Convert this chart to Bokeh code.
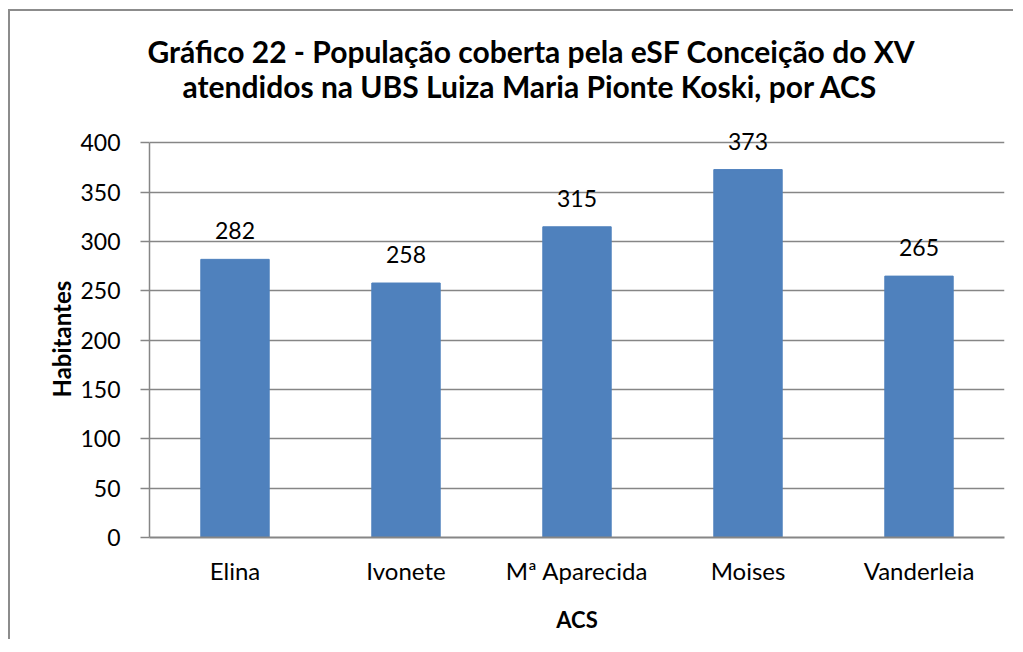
from bokeh.plotting import figure
from bokeh.models import ColumnDataSource, LabelSet, Range1d, FixedTicker, Title
from bokeh.core.properties import value
from bokeh.embed import file_html
from bokeh.resources import INLINE

categories = ["Elina", "Ivonete", "Mª Aparecida", "Moises", "Vanderleia"]
values = [282, 258, 315, 373, 265]
y_ticks = [0, 50, 100, 150, 200, 250, 300, 350, 400]
title_lines = ["Gráfico 22 - População coberta pela eSF Conceição do XV",
               "atendidos na UBS Luiza Maria Pionte Koski, por ACS"]
x_title = "ACS"
y_title = "Habitantes"

FONT = "Lato"
GRAY = "#868686"

src = ColumnDataSource(dict(cat=categories, val=values, lab=[str(v) for v in values]))

p = figure(x_range=categories, y_range=Range1d(0, 440), width=1005, height=630,
           output_backend="svg", toolbar_location=None,
           min_border_left=139, min_border_right=11, min_border_top=92, min_border_bottom=104)

p.styles = {"margin-left": "8px", "margin-top": "9px",
            "border-left": "2px solid #8c8c8c", "border-top": "2px solid #8c8c8c"}

# line 2 first (closest to the frame), then line 1
p.add_layout(Title(text=title_lines[1], align="left", offset=33, standoff=0,
                   text_font=FONT, text_font_size="30px", text_font_style="bold",
                   text_color="#000000"), "above")
p.add_layout(Title(text=title_lines[0], align="left", offset=-2, standoff=-6,
                   text_font=FONT, text_font_size="30px", text_font_style="bold",
                   text_color="#000000"), "above")

# y axis title, placed beside the 0-400 part of the axis
p.add_layout(Title(text=y_title, align="left", offset=140, standoff=4,
                   text_font=FONT, text_font_size="24px", text_font_style="bold",
                   text_color="#000000"), "left")

p.vbar(x="cat", top="val", width=0.4, source=src, fill_color="#4F81BD", line_color="#4F81BD")

labels = LabelSet(x="cat", y="val", text="lab", source=src, text_align="center",
                  text_baseline="bottom", y_offset=20, text_font=value(FONT),
                  text_font_size=value("23px"), text_color="#000000")
p.add_layout(labels)

p.xgrid.grid_line_color = None
p.ygrid.grid_line_color = GRAY
p.ygrid.grid_line_width = 1.5
p.outline_line_color = None

p.yaxis.ticker = FixedTicker(ticks=y_ticks)
p.yaxis.bounds = (y_ticks[0], y_ticks[-1])
p.yaxis.axis_line_color = GRAY
p.yaxis.axis_line_width = 1.5
p.yaxis.major_tick_line_color = GRAY
p.yaxis.major_tick_line_width = 1.5
p.yaxis.major_tick_out = 9
p.yaxis.major_tick_in = 0
p.yaxis.minor_tick_line_color = None
p.yaxis.major_label_text_font = FONT
p.yaxis.major_label_text_font_size = "23px"
p.yaxis.major_label_text_color = "#000000"
p.yaxis.major_label_standoff = 20

p.xaxis.axis_line_color = GRAY
p.xaxis.axis_line_width = 2
p.xaxis.major_tick_line_color = None
p.xaxis.minor_tick_line_color = None
p.xaxis.major_label_text_font = FONT
p.xaxis.major_label_text_font_size = "24px"
p.xaxis.major_label_text_color = "#000000"
p.xaxis.major_label_standoff = 12
p.xaxis.axis_label = x_title
p.xaxis.axis_label_text_font = FONT
p.xaxis.axis_label_text_font_size = "22px"
p.xaxis.axis_label_text_font_style = "bold"
p.xaxis.axis_label_text_color = "#000000"
p.xaxis.axis_label_standoff = 18

open("out.html", "w").write(file_html(p, INLINE))
